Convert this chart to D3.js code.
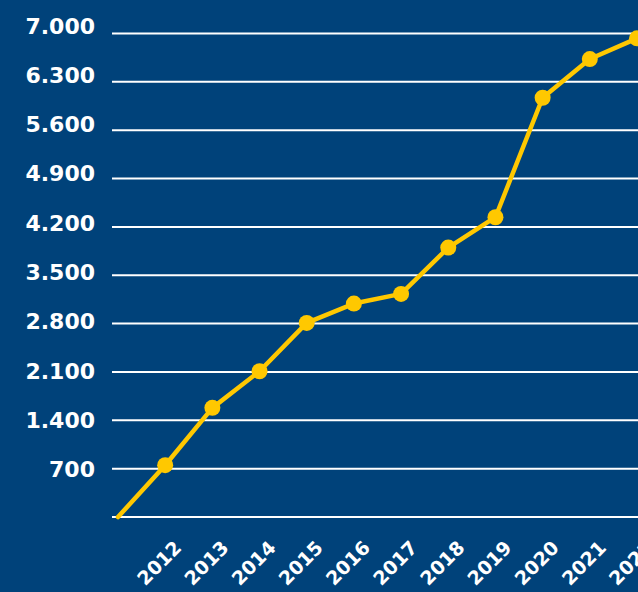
<!DOCTYPE html>
<html>
<head>
<meta charset="utf-8">
<script src="https://cdn.jsdelivr.net/npm/d3@7"></script>
<style>
  html, body { margin: 0; padding: 0; background: #00427a; }
  svg { display: block; }
</style>
</head>
<body>
<div id="chart"></div>
<script>
// data (2011 is the zero start, no marker, no label)
const years = [2011, 2012, 2013, 2014, 2015, 2016, 2017, 2018, 2019, 2020, 2021, 2022];
const values = [0, 750, 1580, 2110, 2810, 3090, 3230, 3900, 4340, 6070, 6630, 6930];
const yTicks = [700, 1400, 2100, 2800, 3500, 4200, 4900, 5600, 6300, 7000];
const gridValues = [0, 700, 1400, 2100, 2800, 3500, 4200, 4900, 5600, 6300, 7000];

const width = 638;
const height = 592;
const margins = { top: 33.5, right: 1, bottom: 75, left: 118 };

const bg = "#00427a";
const yellow = "#ffc800";

const svg = d3.select("#chart").append("svg")
    .attr("width", width)
    .attr("height", height);

svg.append("rect")
    .attr("width", width)
    .attr("height", height)
    .attr("fill", bg);

const data = years.map((y, i) => ({ year: y, value: values[i] }));

const xScale = d3.scalePoint()
    .domain(years)
    .range([margins.left, width - margins.right]);

const yScale = d3.scaleLinear()
    .domain([0, 7000])
    .range([height - margins.bottom, margins.top]);

// labels sit a little higher towards the top
const yLabelScale = d3.scaleLinear()
    .domain([0, 7000])
    .range([height - margins.bottom + 2, margins.top - 7.5]);

// grid lines
svg.append("g")
    .selectAll("line")
    .data(gridValues)
    .join("line")
    .attr("x1", 112)
    .attr("x2", width)
    .attr("y1", d => yScale(d))
    .attr("y2", d => yScale(d))
    .attr("stroke", "#ffffff")
    .attr("stroke-width", 2);

// y axis labels
const yAxis = svg.append("g")
    .attr("transform", "translate(95,0)")
    .call(d3.axisLeft(yLabelScale)
        .tickValues(yTicks)
        .tickSize(0)
        .tickPadding(0)
        .tickFormat(d => d3.format(",")(d).replace(/,/g, ".")));
yAxis.select(".domain").remove();
yAxis.selectAll("text")
    .attr("fill", "#ffffff")
    .attr("font-family", "'DejaVu Sans', sans-serif")
    .attr("font-weight", "bold")
    .attr("font-size", "22px");

// x axis labels
const xAxis = svg.append("g")
    .attr("transform", `translate(0,${height - margins.bottom})`)
    .call(d3.axisBottom(xScale)
        .tickValues(years.slice(1))
        .tickSize(0));
xAxis.select(".domain").remove();
xAxis.selectAll("text")
    .attr("fill", "#ffffff")
    .attr("font-family", "'DejaVu Sans', sans-serif")
    .attr("font-weight", "bold")
    .attr("font-size", "19px")
    .attr("y", 0)
    .attr("dy", 0)
    .attr("text-anchor", "end")
    .attr("transform", "translate(17,32) rotate(-45)");

// line
const line = d3.line()
    .x(d => xScale(d.year))
    .y(d => yScale(d.value));

svg.append("path")
    .datum(data)
    .attr("d", line)
    .attr("fill", "none")
    .attr("stroke", yellow)
    .attr("stroke-width", 4.5)
    .attr("stroke-linejoin", "round")
    .attr("stroke-linecap", "round");

svg.append("g")
    .selectAll("circle")
    .data(data.slice(1))
    .join("circle")
    .attr("cx", d => xScale(d.year))
    .attr("cy", d => yScale(d.value))
    .attr("r", 8)
    .attr("fill", yellow);
</script>
</body>
</html>
